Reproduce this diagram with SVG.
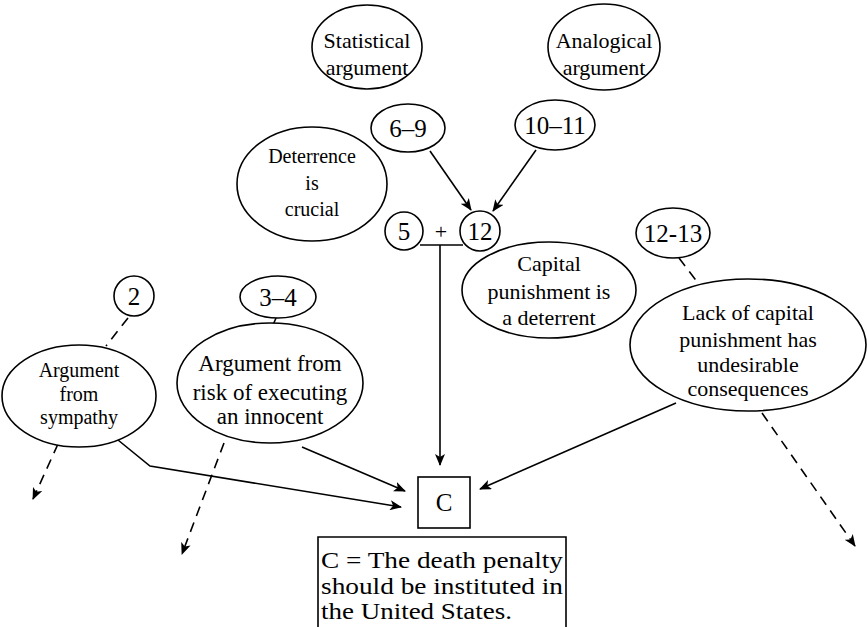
<svg xmlns="http://www.w3.org/2000/svg" width="867" height="627" viewBox="0 0 867 627">
<defs>
<style>
.n{fill:#fff;stroke:#000;stroke-width:1.6}
.t{font-family:"Liberation Serif","Times New Roman",serif;fill:#000;text-anchor:middle}
.s20{font-size:20px}
.s22{font-size:22px}
.s23{font-size:23px}
.s24{font-size:25px}
.c{fill:none;stroke:#000;stroke-width:1.6}
.d{stroke-dasharray:10 7}
.l{font-size:24px;text-anchor:start}
</style>
<marker id="a" viewBox="0 0 12 10" refX="11" refY="5" markerWidth="12" markerHeight="10" markerUnits="userSpaceOnUse" orient="auto">
<path d="M0,0 L12,5 L0,10 L3,5 z" fill="#000"/>
</marker>
</defs>
<rect width="867" height="627" fill="#fff"/>
<g id="connectors">
<line class="c" x1="430" y1="151" x2="471" y2="210" marker-end="url(#a)"/>
<line class="c" x1="536" y1="150" x2="493" y2="211" marker-end="url(#a)"/>
<line class="c" x1="420" y1="245" x2="463" y2="245"/>
<line class="c" x1="440" y1="245" x2="440" y2="465" marker-end="url(#a)"/>
<line class="c d" x1="679" y1="258" x2="698" y2="283"/>
<line class="c" x1="676" y1="403" x2="480" y2="489" marker-end="url(#a)"/>
<line class="c d" x1="762" y1="413" x2="855" y2="546" marker-end="url(#a)"/>
<line class="c d" x1="128" y1="318" x2="106" y2="346"/>
<polyline class="c" points="118,440 150,466 401,507" marker-end="url(#a)"/>
<line class="c d" x1="58" y1="444" x2="33" y2="499" marker-end="url(#a)"/>
<line class="c" x1="276" y1="318" x2="273" y2="325"/>
<line class="c" x1="302" y1="447" x2="405" y2="491" marker-end="url(#a)"/>
<line class="c d" x1="224" y1="443" x2="182" y2="554" marker-end="url(#a)"/>
</g>
<g id="statistical">
<ellipse class="n" cx="367" cy="47" rx="55" ry="42"/>
<text class="t s22" x="367" y="48">Statistical</text>
<text class="t s22" x="367" y="75">argument</text>
</g>
<g id="analogical">
<ellipse class="n" cx="604" cy="47" rx="56" ry="43"/>
<text class="t s22" x="604" y="48">Analogical</text>
<text class="t s22" x="604" y="75">argument</text>
</g>
<g id="n6-9">
<ellipse class="n" cx="408" cy="128" rx="37" ry="24"/>
<text class="t s24" x="408" y="137">6–9</text>
</g>
<g id="n10-11">
<ellipse class="n" cx="555" cy="125" rx="40" ry="25"/>
<text class="t s24" x="555" y="134">10–11</text>
</g>
<g id="deterrence">
<ellipse class="n" cx="312" cy="184" rx="75" ry="57"/>
<text class="t s20" x="312" y="163">Deterrence</text>
<text class="t s20" x="312" y="190">is</text>
<text class="t s20" x="312" y="216">crucial</text>
</g>
<g id="n5">
<circle class="n" cx="404" cy="231" r="19"/>
<text class="t s24" x="404" y="240">5</text>
</g>
<text class="t s22" x="441" y="239">+</text>
<g id="n12">
<circle class="n" cx="480" cy="231" r="20"/>
<text class="t s24" x="480" y="240">12</text>
</g>
<g id="capital">
<ellipse class="n" cx="549" cy="290" rx="87" ry="48"/>
<text class="t s22" x="549" y="271">Capital</text>
<text class="t s22" x="549" y="299">punishment is</text>
<text class="t s22" x="549" y="325">a deterrent</text>
</g>
<g id="n12-13">
<ellipse class="n" cx="673" cy="233" rx="37" ry="25"/>
<text class="t s24" x="673" y="242">12-13</text>
</g>
<g id="lack">
<ellipse class="n" cx="748" cy="345" rx="118" ry="66"/>
<text class="t s22" x="748" y="320">Lack of capital</text>
<text class="t s22" x="748" y="347">punishment has</text>
<text class="t s22" x="748" y="372">undesirable</text>
<text class="t s22" x="748" y="396">consequences</text>
</g>
<g id="n2">
<circle class="n" cx="134" cy="296" r="20"/>
<text class="t s24" x="134" y="305">2</text>
</g>
<g id="sympathy">
<ellipse class="n" cx="79" cy="396" rx="77" ry="51"/>
<text class="t s20" x="79" y="377">Argument</text>
<text class="t s20" x="79" y="401">from</text>
<text class="t s20" x="79" y="424">sympathy</text>
</g>
<g id="n3-4">
<ellipse class="n" cx="278" cy="297" rx="38" ry="21"/>
<text class="t s24" x="278" y="306">3–4</text>
</g>
<g id="risk">
<ellipse class="n" cx="270" cy="383" rx="93" ry="60"/>
<text class="t s23" x="270" y="371">Argument from</text>
<text class="t s23" x="270" y="400">risk of executing</text>
<text class="t s23" x="270" y="424">an innocent</text>
</g>
<g id="conclusion">
<rect class="n" x="418" y="477" width="52" height="51"/>
<text class="t s24" x="444" y="511">C</text>
</g>
<g id="legend">
<polyline class="c" points="318,627 318,537 566,537 566,627"/>
<text class="t l" x="321" y="568" textLength="242" lengthAdjust="spacingAndGlyphs">C = The death penalty</text>
<text class="t l" x="321" y="594" textLength="242" lengthAdjust="spacingAndGlyphs">should be instituted in</text>
<text class="t l" x="321" y="619" textLength="191" lengthAdjust="spacingAndGlyphs">the United States.</text>
</g>
</svg>
